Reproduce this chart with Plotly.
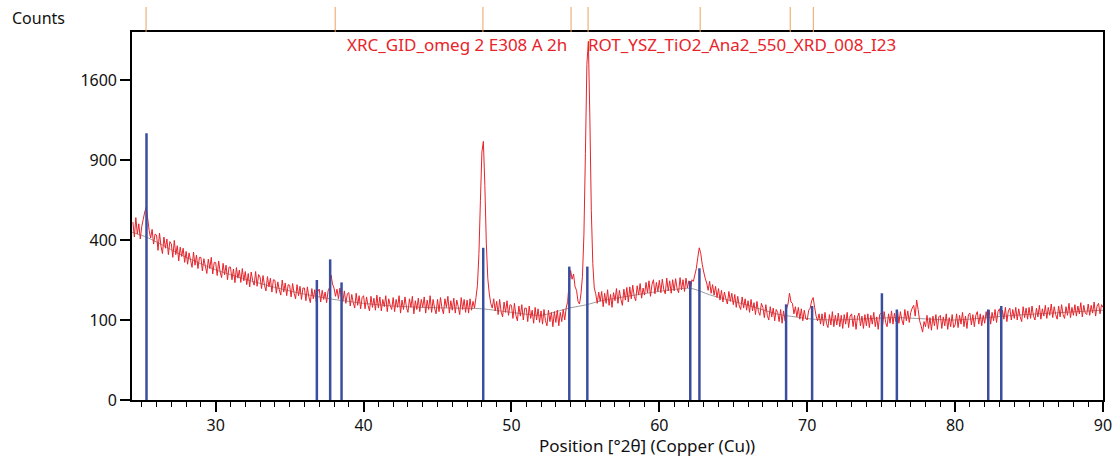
import numpy as np
import plotly.graph_objects as go

# ---------------- data ----------------
SCAN_START = 24.4      # deg 2theta of first measured point
SCAN_STEP = 0.1        # deg per step

# measured counts, one row per degree (first row starts at 24.4)
COUNTS_ROWS = [
    [495, 415, 520, 430, 485, 405],                                  # 24.4-24.9
    [470, 510, 552, 580, 515, 450, 410, 455, 380, 430],              # 25
    [425, 350, 435, 370, 335, 415, 360, 405, 330, 392],              # 26
    [380, 318, 398, 330, 372, 302, 365, 322, 360, 296],              # 27
    [345, 288, 338, 305, 275, 342, 284, 328, 270, 318],              # 28
    [318, 260, 312, 280, 250, 310, 270, 318, 248, 296],              # 29
    [295, 242, 302, 256, 234, 292, 245, 284, 226, 276],              # 30
    [276, 226, 268, 215, 274, 232, 264, 216, 270, 222],              # 31
    [258, 208, 250, 200, 256, 222, 206, 258, 202, 246],              # 32
    [236, 194, 242, 205, 186, 238, 200, 232, 182, 226],              # 33
    [224, 178, 218, 190, 172, 225, 182, 214, 170, 208],              # 34
    [206, 166, 212, 178, 160, 208, 170, 202, 158, 196],              # 35
    [196, 154, 200, 166, 148, 194, 160, 190, 150, 184],              # 36
    [192, 150, 188, 158, 182, 148, 186, 198, 244, 210],              # 37
    [196, 168, 192, 160, 196, 164, 152, 186, 146, 176],              # 38
    [180, 138, 174, 148, 132, 178, 140, 170, 130, 164],              # 39
    [170, 130, 166, 140, 124, 168, 134, 162, 126, 172],              # 40
    [132, 166, 124, 158, 136, 170, 122, 160, 140, 128],              # 41
    [164, 122, 158, 134, 170, 118, 156, 128, 166, 134],              # 42
    [120, 160, 134, 168, 116, 154, 128, 162, 122, 158],              # 43
    [134, 166, 118, 156, 128, 170, 120, 158, 132, 116],              # 44
    [158, 122, 164, 132, 116, 160, 134, 168, 118, 154],              # 45
    [126, 162, 118, 156, 136, 114, 164, 128, 158, 120],              # 46
    [156, 118, 160, 126, 152, 132, 164, 205, 335, 620],              # 47
    [960, 1045, 720, 380, 230, 176, 146, 132, 160, 124],             # 48
    [152, 114, 158, 122, 108, 150, 120, 154, 112, 142],              # 49
    [140, 104, 146, 112, 98, 138, 110, 142, 100, 132],               # 50
    [132, 96, 138, 104, 126, 92, 134, 100, 130, 94],                 # 51
    [124, 90, 128, 98, 86, 126, 96, 120, 84, 122],                   # 52
    [94, 126, 86, 120, 96, 128, 100, 132, 152, 212],                 # 53
    [262, 228, 248, 200, 188, 152, 144, 176, 238, 430],              # 54
    [950, 1760, 2010, 1250, 560, 290, 196, 176, 146, 182],           # 55
    [152, 184, 136, 178, 146, 190, 140, 174, 134, 180],              # 56
    [154, 194, 146, 188, 158, 140, 192, 156, 198, 150],              # 57
    [200, 160, 206, 168, 154, 204, 172, 212, 162, 196],              # 58
    [172, 216, 180, 222, 168, 208, 226, 176, 216, 184],              # 59
    [224, 180, 228, 190, 176, 232, 186, 222, 178, 226],              # 60
    [186, 230, 194, 180, 234, 190, 226, 184, 232, 196],              # 61
    [222, 186, 226, 220, 244, 270, 318, 362, 335, 288],              # 62
    [256, 232, 214, 188, 220, 178, 208, 172, 202, 164],              # 63
    [194, 156, 188, 150, 182, 160, 144, 184, 152, 178],              # 64
    [142, 174, 134, 168, 138, 128, 166, 132, 160, 126],              # 65
    [154, 120, 158, 124, 148, 114, 152, 122, 112, 146],              # 66
    [134, 106, 142, 112, 100, 136, 108, 132, 98, 128],               # 67
    [120, 96, 128, 92, 124, 98, 130, 144, 178, 150],                 # 68
    [146, 116, 136, 108, 134, 102, 130, 98, 126, 104],               # 69
    [100, 126, 132, 154, 164, 134, 110, 98, 116, 90],                # 70
    [116, 86, 120, 92, 82, 114, 88, 122, 84, 112],                   # 71
    [88, 118, 84, 112, 80, 114, 90, 120, 82, 110],                   # 72
    [116, 84, 112, 78, 108, 118, 86, 110, 80, 114],                  # 73
    [86, 116, 82, 112, 90, 120, 84, 108, 78, 114],                   # 74
    [118, 88, 122, 94, 84, 116, 92, 124, 90, 118],                   # 75
    [96, 126, 92, 122, 100, 88, 128, 98, 124, 94],                   # 76
    [120, 132, 140, 110, 156, 128, 98, 86, 72, 96],                  # 77
    [84, 112, 80, 106, 76, 110, 86, 114, 78, 108],                   # 78
    [112, 80, 108, 86, 116, 78, 106, 84, 114, 82],                   # 79
    [88, 116, 82, 112, 90, 120, 84, 110, 80, 114],                   # 80
    [118, 88, 114, 84, 112, 122, 90, 116, 86, 112],                  # 81
    [92, 122, 96, 126, 90, 120, 98, 128, 94, 122],                   # 82
    [130, 98, 126, 102, 134, 96, 124, 132, 100, 128],                # 83
    [104, 134, 100, 130, 108, 96, 136, 106, 132, 102],               # 84
    [134, 104, 138, 110, 100, 132, 108, 140, 102, 130],              # 85
    [110, 140, 104, 134, 112, 144, 106, 136, 114, 102],              # 86
    [138, 108, 142, 114, 104, 136, 112, 146, 106, 134],              # 87
    [112, 142, 110, 138, 116, 148, 108, 140, 118, 114],              # 88
    [144, 112, 140, 118, 150, 110, 138, 146, 116, 142],              # 89
    [134],                                                           # 90
]

# fitted background (bending points)
BG_POS = [24.34, 25.3, 26, 28, 30, 32, 34, 36, 38, 40, 42, 44, 46, 48, 50, 52,
          53.9, 55.1, 56, 62.1, 63.4, 66, 68, 68.8, 70.4, 72, 76, 80, 84, 90]
BG_COUNTS = [440, 415, 390, 318, 265, 228, 198, 175, 158, 146, 138, 134, 132, 130, 120, 112,
             132, 142, 153, 195, 173, 140, 115, 110, 102, 100, 106, 100, 112, 126]

# reference pattern sticks (blue)
STICK_POS = [25.32, 36.84, 37.74, 38.51, 48.09, 53.91, 55.13, 62.09, 62.71,
             68.57, 70.33, 75.05, 76.06, 82.24, 83.12]
STICK_COUNTS = [1111, 225, 309, 216, 362, 278, 278, 221, 271,
                143, 138, 178, 128, 128, 138]

# identified peak positions (orange marks above the plot)
PEAK_POS = [25.29, 38.08, 48.07, 54.03, 55.18, 62.76, 68.85, 70.41]

Y_TICKS = [0, 100, 400, 900, 1600]
X_RANGE = [24.34, 90]
Y_MAX_COUNTS = 2116

# ---------------- build ----------------
COUNTS = [v for row in COUNTS_ROWS for v in row]
two_theta = np.round(SCAN_START + SCAN_STEP * np.arange(len(COUNTS)), 2)

FONT = "Noto Sans"
RED = "#e8232a"
BLUE = "#3a4ea0"

fig = go.Figure()

# background line
fig.add_trace(go.Scatter(
    x=BG_POS, y=np.sqrt(BG_COUNTS), mode="lines",
    line=dict(color="#9a9a9a", width=1, shape="spline", smoothing=0.6),
    hoverinfo="skip", showlegend=False))

# measured pattern
fig.add_trace(go.Scatter(
    x=two_theta, y=np.sqrt(COUNTS), mode="lines",
    line=dict(color=RED, width=1, simplify=False),
    showlegend=False))

# sticks
sx, sy = [], []
for p, c in zip(STICK_POS, STICK_COUNTS):
    sx += [p, p, None]
    sy += [0, np.sqrt(c), None]
fig.add_trace(go.Scatter(
    x=sx, y=sy, mode="lines", line=dict(color=BLUE, width=2.5),
    hoverinfo="skip", showlegend=False))

# orange peak marks above the plot
for p in PEAK_POS:
    fig.add_shape(type="line", xref="x", yref="paper",
                  x0=p, x1=p, y0=1.0, y1=1.068,
                  line=dict(color="#e9a35f", width=1))

axis_common = dict(
    showline=True, linecolor="black", linewidth=1.6, mirror=True,
    showgrid=False, zeroline=False, automargin=False,
    ticks="outside", tickcolor="black", tickwidth=1.6,
    tickfont=dict(family=FONT, size=16, color="#111"),
)

fig.update_xaxes(
    range=X_RANGE, dtick=10, tick0=0, ticklen=10,
    minor=dict(dtick=1, tick0=0, ticks="outside", ticklen=5, tickwidth=1.3, tickcolor="black"),
    **axis_common)
fig.update_yaxes(
    range=[0, np.sqrt(Y_MAX_COUNTS)],
    tickvals=np.sqrt(Y_TICKS), ticktext=[str(t) for t in Y_TICKS], ticklen=10,
    **axis_common)

fig.add_annotation(text="Counts", xref="paper", yref="paper",
                   x=-0.1256, y=1.038, xanchor="left", yanchor="middle",
                   showarrow=False, font=dict(family=FONT, size=16, color="#111"))
fig.add_annotation(text="XRC_GID_omeg 2 E308 A 2h", xref="paper", yref="paper",
                   x=0.2194, y=0.9647, xanchor="left", yanchor="middle",
                   showarrow=False, font=dict(family=FONT, size=17, color=RED))
fig.add_annotation(text="ROT_YSZ_TiO2_Ana2_550_XRD_008_I23", xref="paper", yref="paper",
                   x=0.4676, y=0.9647, xanchor="left", yanchor="middle",
                   showarrow=False, font=dict(family=FONT, size=17, color=RED))
fig.add_annotation(text="Position [°2θ] (Copper (Cu))", xref="paper", yref="paper",
                   x=0.530, y=-0.1223, xanchor="center", yanchor="middle",
                   showarrow=False, font=dict(family=FONT, size=17, color="#111"))

fig.update_layout(
    width=1115, height=457,
    margin=dict(l=132, r=12, t=32, b=57),
    paper_bgcolor="white", plot_bgcolor="white",
    showlegend=False,
)

fig.write_html("out.html")
